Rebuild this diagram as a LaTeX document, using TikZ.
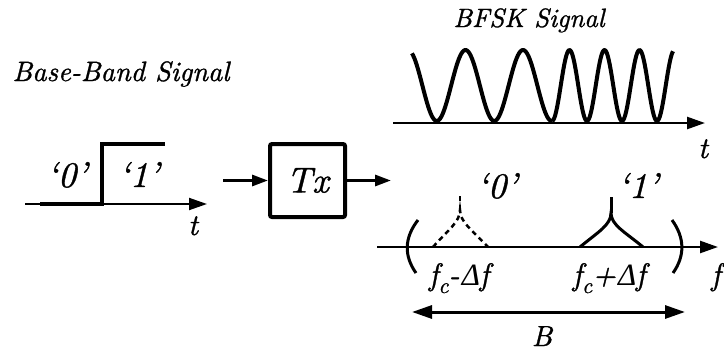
\documentclass[tikz,border=0pt]{standalone}
\usepackage{fontspec}
\newfontfamily\grk{Liberation Serif}[FakeSlant=0.22]
\newfontfamily\lmit{lmroman10-italic.otf}[FakeBold=1]
\usetikzlibrary{arrows.meta}
\newcommand\lblsz[1]{\fontsize{#1}{#1}\selectfont\lmit}
\newcommand\dlt{{\grk Δ}}
\tikzset{
  lbl/.style={anchor=base, inner sep=0pt},
  axisline/.style={line width=2.5pt, -{Triangle[length=18pt,width=12pt]}},
  flowarrow/.style={line width=3pt, -{Triangle[length=16pt,width=11pt]}},
  wave/.style={line width=4pt, line join=round},
  paren/.style={line width=3pt},
}
\begin{document}
\begin{tikzpicture}[x=1pt,y=-1pt]
\useasboundingbox (0,0) rectangle (724,351);
% base-band
\node[lbl, font=\lblsz{28}] (bbtitle) at (121,81) {Base-Band Signal};
\coordinate (bbA) at (25,204);
\coordinate (bbB) at (207,204);
\draw[axisline, line width=2pt] (bbA) -- (bbB);
\draw[line width=4pt, line join=miter] (40,204) -- (102,204) -- (102,144) -- (165,144);
\node[lbl, font=\lblsz{36}] (bb0) at (67,187) {‘0’};
\node[lbl, font=\lblsz{36}] (bb1) at (139,187) {‘1’};
\node[lbl, font=\lblsz{30}] (bbt) at (193,235) {t};
% Tx
\node[draw, line width=4pt, rounded corners=2pt, minimum width=75pt, minimum height=73pt, inner sep=0pt, font=\lblsz{36}] (tx) at (307.5,180.5) {Tx};
\coordinate (txin) at (223,180.5);
\coordinate (txout) at (391,180.5);
\draw[flowarrow] (txin) -- (tx.west);
\draw[flowarrow] (tx.east) -- (txout);
% BFSK
\node[lbl, font=\lblsz{26.5}] (bfsk) at (529,27) {BFSK Signal};
\coordinate (tA) at (393,123);
\coordinate (tB) at (705,123);
\draw[axisline] (tA) -- (tB);
\draw[wave] plot[domain=412:552, samples=120] (\x, {85.5-35.5*cos((\x-408)*6.26087)});
\draw[wave] plot[domain=552:673, samples=120] (\x, {85.5+35.5*cos((\x-552)*10.28571)});
\node[lbl, font=\lblsz{30}] (tt) at (703,158) {t};
% spectrum
\coordinate (fA) at (377,247);
\coordinate (fB) at (718,247);
\draw[axisline] (fA) -- (fB);
\draw[line width=2.5pt, dash pattern=on 5pt off 4pt] (433,247) .. controls (448,230) and (460,222) .. (460,210) .. controls (460,222) and (472,230) .. (488,247);
\draw[line width=2.5pt, dash pattern=on 5pt off 4pt] (460,210) -- (460,196);
\draw[line width=3pt] (580,247) .. controls (598,232) and (611,225) .. (611,213) .. controls (611,225) and (625,232) .. (643,247);
\draw[line width=3pt] (611,213) -- (611,197);
\draw[paren] (418,220) .. controls (404,238) and (404,256) .. (416,273);
\draw[paren] (672,220) .. controls (685,238) and (685,256) .. (673,273);
\node[lbl, font=\lblsz{36}] (sp0) at (497,198) {‘0’};
\node[lbl, font=\lblsz{36}] (sp1) at (638,198) {‘1’};
\node[lbl, font=\lblsz{31}] (fm) at (459,285) {f\raisebox{-8pt}{\fontsize{22}{22}\selectfont c}-\dlt f};
\node[lbl, font=\lblsz{31}] (fp) at (609,285) {f\raisebox{-8pt}{\fontsize{22}{22}\selectfont c}+\dlt f};
\node[lbl, font=\lblsz{31}, anchor=base west] (ff) at (711,285) {f};
\coordinate (bL) at (412,312);
\coordinate (bR) at (685,312);
\draw[line width=3pt, {Triangle[length=20pt,width=13pt]}-{Triangle[length=20pt,width=13pt]}] (bL) -- (bR);
\node[lbl, font=\lblsz{29}] (bw) at (542,346) {B};
\end{tikzpicture}
\end{document}
